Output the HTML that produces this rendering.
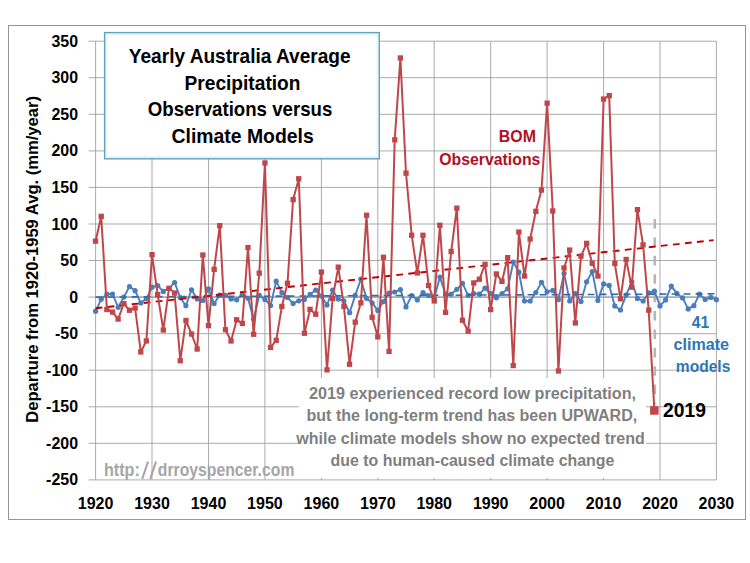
<!DOCTYPE html>
<html><head><meta charset="utf-8"><title>Yearly Australia Average Precipitation</title>
<style>html,body{margin:0;padding:0;background:#fff}body{width:750px;height:563px;overflow:hidden}</style></head>
<body>
<svg width="750" height="563" viewBox="0 0 750 563" style="display:block;font-family:'Liberation Sans',sans-serif;font-weight:bold">
<rect x="0" y="0" width="750" height="563" fill="#fff"/>
<rect x="8.5" y="25.5" width="737" height="494" fill="#fff" stroke="#959595" stroke-width="1"/>
<path d="M88.6 479.9H716.4M88.6 443.3H716.4M88.6 406.8H716.4M88.6 370.2H716.4M88.6 333.7H716.4M88.6 297.1H716.4M88.6 260.5H716.4M88.6 224.0H716.4M88.6 187.4H716.4M88.6 150.9H716.4M88.6 114.3H716.4M88.6 77.7H716.4M88.6 41.2H716.4" stroke="#ababab" stroke-width="1" fill="none"/>
<path d="M95.6 41.2V479.9M152.0 41.2V479.9M208.5 41.2V479.9M264.9 41.2V479.9M321.4 41.2V479.9M377.8 41.2V479.9M434.2 41.2V479.9M490.7 41.2V479.9M547.1 41.2V479.9M603.6 41.2V479.9M660.0 41.2V479.9M716.4 41.2V479.9" stroke="#9c9c9c" stroke-width="0.85" fill="none"/>
<path d="M95.6 297.1H716.4" stroke="#a2a2a2" stroke-width="1.25" fill="none"/>
<rect x="299" y="378" width="347" height="100" fill="#fff"/>
<rect x="104.6" y="32.6" width="274.7" height="126.2" fill="#fff"/>
<rect x="106.2" y="34.2" width="271.5" height="123" fill="none" stroke="#e6f5fb" stroke-width="2.4"/>
<rect x="104.6" y="32.6" width="274.7" height="126.2" fill="none" stroke="#649fbd" stroke-width="1.4"/>
<path d="M654.8 219V404" stroke="#b6b6b6" stroke-width="2.6" stroke-dasharray="9.6 8.8" fill="none"/>
<polyline points="95.6,311.2 101.2,299.3 106.9,294.0 112.5,294.0 118.2,307.3 123.8,297.1 129.5,286.5 135.1,290.7 140.8,302.9 146.4,298.6 152.0,287.2 157.7,285.7 163.3,291.4 169.0,288.3 174.6,282.5 180.3,297.8 185.9,305.7 191.5,289.8 197.2,298.9 202.8,300.5 208.5,288.8 214.1,303.5 219.8,295.1 225.4,295.3 231.1,298.9 236.7,299.8 242.3,293.7 248.0,298.2 253.6,319.0 259.3,295.4 264.9,299.4 270.6,305.6 276.2,281.2 281.9,292.6 287.5,297.5 293.1,303.4 298.8,300.8 304.4,299.4 310.1,294.3 315.7,290.1 321.4,296.1 327.0,305.0 332.6,290.1 338.3,299.1 343.9,300.8 349.6,312.7 355.2,295.4 360.9,279.2 366.5,298.3 372.2,303.1 377.8,310.4 383.4,301.6 389.1,293.0 394.7,292.0 400.4,289.6 406.0,307.0 411.7,295.6 417.3,300.0 423.0,292.5 428.6,295.6 434.2,298.4 439.9,277.1 445.5,294.0 451.2,294.2 456.8,289.3 462.5,283.3 468.1,295.3 473.7,293.5 479.4,294.2 485.0,288.2 490.7,293.5 496.3,297.8 502.0,293.5 507.6,288.8 513.3,262.0 518.9,272.2 524.5,301.0 530.2,301.0 535.8,292.5 541.5,282.3 547.1,291.8 552.8,290.4 558.4,299.7 564.1,273.3 569.7,301.0 575.3,293.5 581.0,301.6 586.6,281.8 592.3,271.6 597.9,300.4 603.6,283.9 609.2,285.4 614.8,305.9 620.5,310.0 626.1,295.1 631.8,281.8 637.4,298.4 643.1,301.0 648.7,292.9 654.4,291.2 660.0,305.9 665.6,299.9 671.3,286.1 676.9,293.4 682.6,297.9 688.2,308.9 693.9,305.7 699.5,294.2 705.2,299.5 710.8,297.4 716.4,299.7" stroke="#4a7ebb" stroke-width="1.9" fill="none" stroke-linejoin="round"/>
<g fill="#4a7ebb"><circle cx="95.6" cy="311.2" r="2.6"/><circle cx="101.2" cy="299.3" r="2.6"/><circle cx="106.9" cy="294.0" r="2.6"/><circle cx="112.5" cy="294.0" r="2.6"/><circle cx="118.2" cy="307.3" r="2.6"/><circle cx="123.8" cy="297.1" r="2.6"/><circle cx="129.5" cy="286.5" r="2.6"/><circle cx="135.1" cy="290.7" r="2.6"/><circle cx="140.8" cy="302.9" r="2.6"/><circle cx="146.4" cy="298.6" r="2.6"/><circle cx="152.0" cy="287.2" r="2.6"/><circle cx="157.7" cy="285.7" r="2.6"/><circle cx="163.3" cy="291.4" r="2.6"/><circle cx="169.0" cy="288.3" r="2.6"/><circle cx="174.6" cy="282.5" r="2.6"/><circle cx="180.3" cy="297.8" r="2.6"/><circle cx="185.9" cy="305.7" r="2.6"/><circle cx="191.5" cy="289.8" r="2.6"/><circle cx="197.2" cy="298.9" r="2.6"/><circle cx="202.8" cy="300.5" r="2.6"/><circle cx="208.5" cy="288.8" r="2.6"/><circle cx="214.1" cy="303.5" r="2.6"/><circle cx="219.8" cy="295.1" r="2.6"/><circle cx="225.4" cy="295.3" r="2.6"/><circle cx="231.1" cy="298.9" r="2.6"/><circle cx="236.7" cy="299.8" r="2.6"/><circle cx="242.3" cy="293.7" r="2.6"/><circle cx="248.0" cy="298.2" r="2.6"/><circle cx="253.6" cy="319.0" r="2.6"/><circle cx="259.3" cy="295.4" r="2.6"/><circle cx="264.9" cy="299.4" r="2.6"/><circle cx="270.6" cy="305.6" r="2.6"/><circle cx="276.2" cy="281.2" r="2.6"/><circle cx="281.9" cy="292.6" r="2.6"/><circle cx="287.5" cy="297.5" r="2.6"/><circle cx="293.1" cy="303.4" r="2.6"/><circle cx="298.8" cy="300.8" r="2.6"/><circle cx="304.4" cy="299.4" r="2.6"/><circle cx="310.1" cy="294.3" r="2.6"/><circle cx="315.7" cy="290.1" r="2.6"/><circle cx="321.4" cy="296.1" r="2.6"/><circle cx="327.0" cy="305.0" r="2.6"/><circle cx="332.6" cy="290.1" r="2.6"/><circle cx="338.3" cy="299.1" r="2.6"/><circle cx="343.9" cy="300.8" r="2.6"/><circle cx="349.6" cy="312.7" r="2.6"/><circle cx="355.2" cy="295.4" r="2.6"/><circle cx="360.9" cy="279.2" r="2.6"/><circle cx="366.5" cy="298.3" r="2.6"/><circle cx="372.2" cy="303.1" r="2.6"/><circle cx="377.8" cy="310.4" r="2.6"/><circle cx="383.4" cy="301.6" r="2.6"/><circle cx="389.1" cy="293.0" r="2.6"/><circle cx="394.7" cy="292.0" r="2.6"/><circle cx="400.4" cy="289.6" r="2.6"/><circle cx="406.0" cy="307.0" r="2.6"/><circle cx="411.7" cy="295.6" r="2.6"/><circle cx="417.3" cy="300.0" r="2.6"/><circle cx="423.0" cy="292.5" r="2.6"/><circle cx="428.6" cy="295.6" r="2.6"/><circle cx="434.2" cy="298.4" r="2.6"/><circle cx="439.9" cy="277.1" r="2.6"/><circle cx="445.5" cy="294.0" r="2.6"/><circle cx="451.2" cy="294.2" r="2.6"/><circle cx="456.8" cy="289.3" r="2.6"/><circle cx="462.5" cy="283.3" r="2.6"/><circle cx="468.1" cy="295.3" r="2.6"/><circle cx="473.7" cy="293.5" r="2.6"/><circle cx="479.4" cy="294.2" r="2.6"/><circle cx="485.0" cy="288.2" r="2.6"/><circle cx="490.7" cy="293.5" r="2.6"/><circle cx="496.3" cy="297.8" r="2.6"/><circle cx="502.0" cy="293.5" r="2.6"/><circle cx="507.6" cy="288.8" r="2.6"/><circle cx="513.3" cy="262.0" r="2.6"/><circle cx="518.9" cy="272.2" r="2.6"/><circle cx="524.5" cy="301.0" r="2.6"/><circle cx="530.2" cy="301.0" r="2.6"/><circle cx="535.8" cy="292.5" r="2.6"/><circle cx="541.5" cy="282.3" r="2.6"/><circle cx="547.1" cy="291.8" r="2.6"/><circle cx="552.8" cy="290.4" r="2.6"/><circle cx="558.4" cy="299.7" r="2.6"/><circle cx="564.1" cy="273.3" r="2.6"/><circle cx="569.7" cy="301.0" r="2.6"/><circle cx="575.3" cy="293.5" r="2.6"/><circle cx="581.0" cy="301.6" r="2.6"/><circle cx="586.6" cy="281.8" r="2.6"/><circle cx="592.3" cy="271.6" r="2.6"/><circle cx="597.9" cy="300.4" r="2.6"/><circle cx="603.6" cy="283.9" r="2.6"/><circle cx="609.2" cy="285.4" r="2.6"/><circle cx="614.8" cy="305.9" r="2.6"/><circle cx="620.5" cy="310.0" r="2.6"/><circle cx="626.1" cy="295.1" r="2.6"/><circle cx="631.8" cy="281.8" r="2.6"/><circle cx="637.4" cy="298.4" r="2.6"/><circle cx="643.1" cy="301.0" r="2.6"/><circle cx="648.7" cy="292.9" r="2.6"/><circle cx="654.4" cy="291.2" r="2.6"/><circle cx="660.0" cy="305.9" r="2.6"/><circle cx="665.6" cy="299.9" r="2.6"/><circle cx="671.3" cy="286.1" r="2.6"/><circle cx="676.9" cy="293.4" r="2.6"/><circle cx="682.6" cy="297.9" r="2.6"/><circle cx="688.2" cy="308.9" r="2.6"/><circle cx="693.9" cy="305.7" r="2.6"/><circle cx="699.5" cy="294.2" r="2.6"/><circle cx="705.2" cy="299.5" r="2.6"/><circle cx="710.8" cy="297.4" r="2.6"/><circle cx="716.4" cy="299.7" r="2.6"/></g>
<path d="M95.6 297.1L716.4 293.8" stroke="#2a6db0" stroke-width="1.6" stroke-dasharray="6.9 5.1" fill="none"/>
<path d="M95.6 308.3L713.6 240.1" stroke="#c00000" stroke-width="1.9" stroke-dasharray="6.8 5.3" fill="none"/>
<polyline points="95.6,241.2 101.2,216.3 106.9,309.5 112.5,312.1 118.2,319.0 123.8,303.7 129.5,310.3 135.1,308.1 140.8,351.9 146.4,341.0 152.0,254.7 157.7,294.6 163.3,330.0 169.0,288.3 174.6,293.1 180.3,360.7 185.9,320.5 191.5,334.0 197.2,349.0 202.8,255.1 208.5,325.6 214.1,269.3 219.8,225.7 225.4,329.8 231.1,341.0 236.7,319.8 242.3,323.4 248.0,247.6 253.6,334.2 259.3,273.1 264.9,163.0 270.6,347.5 276.2,340.4 281.9,306.5 287.5,283.2 293.1,199.6 298.8,178.7 304.4,333.3 310.1,309.4 315.7,314.2 321.4,272.0 327.0,369.9 332.6,298.4 338.3,267.1 343.9,306.4 349.6,364.2 355.2,322.2 360.9,302.8 366.5,215.2 372.2,317.2 377.8,336.8 383.4,257.2 389.1,351.4 394.7,139.9 400.4,58.0 406.0,173.2 411.7,235.2 417.3,273.0 423.0,235.2 428.6,285.4 434.2,301.0 439.9,225.2 445.5,312.3 451.2,251.4 456.8,208.2 462.5,320.2 468.1,331.2 473.7,282.9 479.4,279.3 485.0,264.3 490.7,309.5 496.3,273.9 502.0,281.4 507.6,257.6 513.3,365.5 518.9,232.0 524.5,276.0 530.2,239.0 535.8,211.3 541.5,190.1 547.1,103.1 552.8,211.0 558.4,371.0 564.1,268.0 569.7,250.1 575.3,323.0 581.0,256.2 586.6,243.4 592.3,263.2 597.9,276.0 603.6,99.0 609.2,95.7 614.8,263.5 620.5,298.9 626.1,259.4 631.8,287.2 637.4,209.6 643.1,244.8 648.7,310.2 654.4,410.4" stroke="#bf474a" stroke-width="2" fill="none" stroke-linejoin="round"/>
<g fill="#bf474a"><rect x="92.9" y="238.5" width="5.3" height="5.3"/><rect x="98.6" y="213.7" width="5.3" height="5.3"/><rect x="104.2" y="306.9" width="5.3" height="5.3"/><rect x="109.9" y="309.4" width="5.3" height="5.3"/><rect x="115.5" y="316.4" width="5.3" height="5.3"/><rect x="121.2" y="301.0" width="5.3" height="5.3"/><rect x="126.8" y="307.6" width="5.3" height="5.3"/><rect x="132.5" y="305.4" width="5.3" height="5.3"/><rect x="138.1" y="349.3" width="5.3" height="5.3"/><rect x="143.7" y="338.3" width="5.3" height="5.3"/><rect x="149.4" y="252.0" width="5.3" height="5.3"/><rect x="155.0" y="292.0" width="5.3" height="5.3"/><rect x="160.7" y="327.4" width="5.3" height="5.3"/><rect x="166.3" y="285.7" width="5.3" height="5.3"/><rect x="172.0" y="290.4" width="5.3" height="5.3"/><rect x="177.6" y="358.1" width="5.3" height="5.3"/><rect x="183.3" y="317.8" width="5.3" height="5.3"/><rect x="188.9" y="331.4" width="5.3" height="5.3"/><rect x="194.5" y="346.4" width="5.3" height="5.3"/><rect x="200.2" y="252.4" width="5.3" height="5.3"/><rect x="205.8" y="323.0" width="5.3" height="5.3"/><rect x="211.5" y="266.7" width="5.3" height="5.3"/><rect x="217.1" y="223.0" width="5.3" height="5.3"/><rect x="222.8" y="327.1" width="5.3" height="5.3"/><rect x="228.4" y="338.3" width="5.3" height="5.3"/><rect x="234.0" y="317.1" width="5.3" height="5.3"/><rect x="239.7" y="320.8" width="5.3" height="5.3"/><rect x="245.3" y="244.9" width="5.3" height="5.3"/><rect x="251.0" y="331.6" width="5.3" height="5.3"/><rect x="256.6" y="270.5" width="5.3" height="5.3"/><rect x="262.3" y="160.3" width="5.3" height="5.3"/><rect x="267.9" y="344.8" width="5.3" height="5.3"/><rect x="273.6" y="337.7" width="5.3" height="5.3"/><rect x="279.2" y="303.8" width="5.3" height="5.3"/><rect x="284.8" y="280.6" width="5.3" height="5.3"/><rect x="290.5" y="197.0" width="5.3" height="5.3"/><rect x="296.1" y="176.1" width="5.3" height="5.3"/><rect x="301.8" y="330.6" width="5.3" height="5.3"/><rect x="307.4" y="306.7" width="5.3" height="5.3"/><rect x="313.1" y="311.6" width="5.3" height="5.3"/><rect x="318.7" y="269.4" width="5.3" height="5.3"/><rect x="324.4" y="367.2" width="5.3" height="5.3"/><rect x="330.0" y="295.8" width="5.3" height="5.3"/><rect x="335.6" y="264.5" width="5.3" height="5.3"/><rect x="341.3" y="303.7" width="5.3" height="5.3"/><rect x="346.9" y="361.6" width="5.3" height="5.3"/><rect x="352.6" y="319.5" width="5.3" height="5.3"/><rect x="358.2" y="300.2" width="5.3" height="5.3"/><rect x="363.9" y="212.6" width="5.3" height="5.3"/><rect x="369.5" y="314.6" width="5.3" height="5.3"/><rect x="375.1" y="334.2" width="5.3" height="5.3"/><rect x="380.8" y="254.6" width="5.3" height="5.3"/><rect x="386.4" y="348.7" width="5.3" height="5.3"/><rect x="392.1" y="137.2" width="5.3" height="5.3"/><rect x="397.7" y="55.3" width="5.3" height="5.3"/><rect x="403.4" y="170.5" width="5.3" height="5.3"/><rect x="409.0" y="232.6" width="5.3" height="5.3"/><rect x="414.7" y="270.3" width="5.3" height="5.3"/><rect x="420.3" y="232.6" width="5.3" height="5.3"/><rect x="425.9" y="282.8" width="5.3" height="5.3"/><rect x="431.6" y="298.3" width="5.3" height="5.3"/><rect x="437.2" y="222.6" width="5.3" height="5.3"/><rect x="442.9" y="309.7" width="5.3" height="5.3"/><rect x="448.5" y="248.8" width="5.3" height="5.3"/><rect x="454.2" y="205.5" width="5.3" height="5.3"/><rect x="459.8" y="317.6" width="5.3" height="5.3"/><rect x="465.5" y="328.6" width="5.3" height="5.3"/><rect x="471.1" y="280.3" width="5.3" height="5.3"/><rect x="476.7" y="276.6" width="5.3" height="5.3"/><rect x="482.4" y="261.7" width="5.3" height="5.3"/><rect x="488.0" y="306.9" width="5.3" height="5.3"/><rect x="493.7" y="271.3" width="5.3" height="5.3"/><rect x="499.3" y="278.7" width="5.3" height="5.3"/><rect x="505.0" y="255.0" width="5.3" height="5.3"/><rect x="510.6" y="362.9" width="5.3" height="5.3"/><rect x="516.2" y="229.4" width="5.3" height="5.3"/><rect x="521.9" y="273.4" width="5.3" height="5.3"/><rect x="527.5" y="236.4" width="5.3" height="5.3"/><rect x="533.2" y="208.7" width="5.3" height="5.3"/><rect x="538.8" y="187.4" width="5.3" height="5.3"/><rect x="544.5" y="100.5" width="5.3" height="5.3"/><rect x="550.1" y="208.3" width="5.3" height="5.3"/><rect x="555.8" y="368.3" width="5.3" height="5.3"/><rect x="561.4" y="265.3" width="5.3" height="5.3"/><rect x="567.0" y="247.4" width="5.3" height="5.3"/><rect x="572.7" y="320.3" width="5.3" height="5.3"/><rect x="578.3" y="253.5" width="5.3" height="5.3"/><rect x="584.0" y="240.7" width="5.3" height="5.3"/><rect x="589.6" y="260.6" width="5.3" height="5.3"/><rect x="595.3" y="273.4" width="5.3" height="5.3"/><rect x="600.9" y="96.4" width="5.3" height="5.3"/><rect x="606.6" y="93.0" width="5.3" height="5.3"/><rect x="612.2" y="260.8" width="5.3" height="5.3"/><rect x="617.8" y="296.2" width="5.3" height="5.3"/><rect x="623.5" y="256.8" width="5.3" height="5.3"/><rect x="629.1" y="284.5" width="5.3" height="5.3"/><rect x="634.8" y="207.0" width="5.3" height="5.3"/><rect x="640.4" y="242.2" width="5.3" height="5.3"/><rect x="646.1" y="307.5" width="5.3" height="5.3"/><rect x="650.1" y="406.2" width="8.5" height="8.5"/></g>
<text x="128.8" y="62.9" font-size="20.4" fill="#000" text-anchor="start" textLength="221.8" lengthAdjust="spacingAndGlyphs">Yearly Australia Average</text>
<text x="184.5" y="89.6" font-size="20.4" fill="#000" text-anchor="start" textLength="116" lengthAdjust="spacingAndGlyphs">Precipitation</text>
<text x="147.8" y="116.2" font-size="20.4" fill="#000" text-anchor="start" textLength="184.5" lengthAdjust="spacingAndGlyphs">Observations versus</text>
<text x="171.5" y="142.9" font-size="20.4" fill="#000" text-anchor="start" textLength="142.3" lengthAdjust="spacingAndGlyphs">Climate Models</text>
<text x="498.8" y="142.1" font-size="16.8" fill="#b0101f" text-anchor="start" textLength="37.1" lengthAdjust="spacingAndGlyphs">BOM</text>
<text x="439.3" y="164.7" font-size="16.8" fill="#b0101f" text-anchor="start" textLength="101.1" lengthAdjust="spacingAndGlyphs">Observations</text>
<text x="309" y="399" font-size="16.8" fill="#7f7f7f" text-anchor="start" textLength="327" lengthAdjust="spacingAndGlyphs">2019 experienced record low precipitation,</text>
<text x="306.5" y="421.3" font-size="16.8" fill="#7f7f7f" text-anchor="start" textLength="330.7" lengthAdjust="spacingAndGlyphs">but the long-term trend has been UPWARD,</text>
<text x="296.3" y="443.6" font-size="16.8" fill="#7f7f7f" text-anchor="start" textLength="348.5" lengthAdjust="spacingAndGlyphs">while climate models show no expected trend</text>
<text x="330.5" y="465.6" font-size="16.8" fill="#7f7f7f" text-anchor="start" textLength="283.9" lengthAdjust="spacingAndGlyphs">due to human-caused climate change</text>
<text x="103.9" y="475.7" font-size="18" fill="#a6a6a6" text-anchor="start" textLength="36" lengthAdjust="spacingAndGlyphs">http:</text>
<path d="M142.2 479L148 461.6M150.2 479L156 461.6" stroke="#a6a6a6" stroke-width="2.1" fill="none"/>
<text x="157.8" y="475.7" font-size="18" fill="#a6a6a6" text-anchor="start" textLength="136.6" lengthAdjust="spacingAndGlyphs">drroyspencer.com</text>
<text x="663" y="416.7" font-size="19.5" fill="#000" text-anchor="start" textLength="42.9" lengthAdjust="spacingAndGlyphs">2019</text>
<text x="691.7" y="328" font-size="16.8" fill="#2e75b6" text-anchor="start" textLength="17.4" lengthAdjust="spacingAndGlyphs">41</text>
<text x="673.6" y="350.2" font-size="16.8" fill="#2e75b6" text-anchor="start" textLength="55.4" lengthAdjust="spacingAndGlyphs">climate</text>
<text x="675.8" y="372.3" font-size="16.8" fill="#2e75b6" text-anchor="start" textLength="54.5" lengthAdjust="spacingAndGlyphs">models</text>
<text x="46.089999999999996" y="485.4" font-size="17.2" fill="#000" text-anchor="start" textLength="32.0" lengthAdjust="spacingAndGlyphs">-250</text>
<text x="46.089999999999996" y="448.8" font-size="17.2" fill="#000" text-anchor="start" textLength="32.0" lengthAdjust="spacingAndGlyphs">-200</text>
<text x="46.089999999999996" y="412.3" font-size="17.2" fill="#000" text-anchor="start" textLength="32.0" lengthAdjust="spacingAndGlyphs">-150</text>
<text x="46.089999999999996" y="375.7" font-size="17.2" fill="#000" text-anchor="start" textLength="32.0" lengthAdjust="spacingAndGlyphs">-100</text>
<text x="54.959999999999994" y="339.2" font-size="17.2" fill="#000" text-anchor="start" textLength="23.1" lengthAdjust="spacingAndGlyphs">-50</text>
<text x="69.22999999999999" y="302.6" font-size="17.2" fill="#000" text-anchor="start" textLength="8.9" lengthAdjust="spacingAndGlyphs">0</text>
<text x="60.36" y="266.0" font-size="17.2" fill="#000" text-anchor="start" textLength="17.7" lengthAdjust="spacingAndGlyphs">50</text>
<text x="51.489999999999995" y="229.5" font-size="17.2" fill="#000" text-anchor="start" textLength="26.6" lengthAdjust="spacingAndGlyphs">100</text>
<text x="51.489999999999995" y="192.9" font-size="17.2" fill="#000" text-anchor="start" textLength="26.6" lengthAdjust="spacingAndGlyphs">150</text>
<text x="51.489999999999995" y="156.4" font-size="17.2" fill="#000" text-anchor="start" textLength="26.6" lengthAdjust="spacingAndGlyphs">200</text>
<text x="51.489999999999995" y="119.8" font-size="17.2" fill="#000" text-anchor="start" textLength="26.6" lengthAdjust="spacingAndGlyphs">250</text>
<text x="51.489999999999995" y="83.2" font-size="17.2" fill="#000" text-anchor="start" textLength="26.6" lengthAdjust="spacingAndGlyphs">300</text>
<text x="51.489999999999995" y="46.7" font-size="17.2" fill="#000" text-anchor="start" textLength="26.6" lengthAdjust="spacingAndGlyphs">350</text>
<text x="77.8" y="508.8" font-size="17.2" fill="#000" text-anchor="start" textLength="35.6" lengthAdjust="spacingAndGlyphs">1920</text>
<text x="134.2" y="508.8" font-size="17.2" fill="#000" text-anchor="start" textLength="35.6" lengthAdjust="spacingAndGlyphs">1930</text>
<text x="190.7" y="508.8" font-size="17.2" fill="#000" text-anchor="start" textLength="35.6" lengthAdjust="spacingAndGlyphs">1940</text>
<text x="247.1" y="508.8" font-size="17.2" fill="#000" text-anchor="start" textLength="35.6" lengthAdjust="spacingAndGlyphs">1950</text>
<text x="303.6" y="508.8" font-size="17.2" fill="#000" text-anchor="start" textLength="35.6" lengthAdjust="spacingAndGlyphs">1960</text>
<text x="360.0" y="508.8" font-size="17.2" fill="#000" text-anchor="start" textLength="35.6" lengthAdjust="spacingAndGlyphs">1970</text>
<text x="416.4" y="508.8" font-size="17.2" fill="#000" text-anchor="start" textLength="35.6" lengthAdjust="spacingAndGlyphs">1980</text>
<text x="472.9" y="508.8" font-size="17.2" fill="#000" text-anchor="start" textLength="35.6" lengthAdjust="spacingAndGlyphs">1990</text>
<text x="529.3" y="508.8" font-size="17.2" fill="#000" text-anchor="start" textLength="35.6" lengthAdjust="spacingAndGlyphs">2000</text>
<text x="585.8" y="508.8" font-size="17.2" fill="#000" text-anchor="start" textLength="35.6" lengthAdjust="spacingAndGlyphs">2010</text>
<text x="642.2" y="508.8" font-size="17.2" fill="#000" text-anchor="start" textLength="35.6" lengthAdjust="spacingAndGlyphs">2020</text>
<text x="698.6" y="508.8" font-size="17.2" fill="#000" text-anchor="start" textLength="35.6" lengthAdjust="spacingAndGlyphs">2030</text>
<text transform="translate(38.1 422.8) rotate(-90)" font-size="17" fill="#000" textLength="326.8" lengthAdjust="spacingAndGlyphs">Departure from 1920-1959 Avg. (mm/year)</text>
</svg>
</body></html>
